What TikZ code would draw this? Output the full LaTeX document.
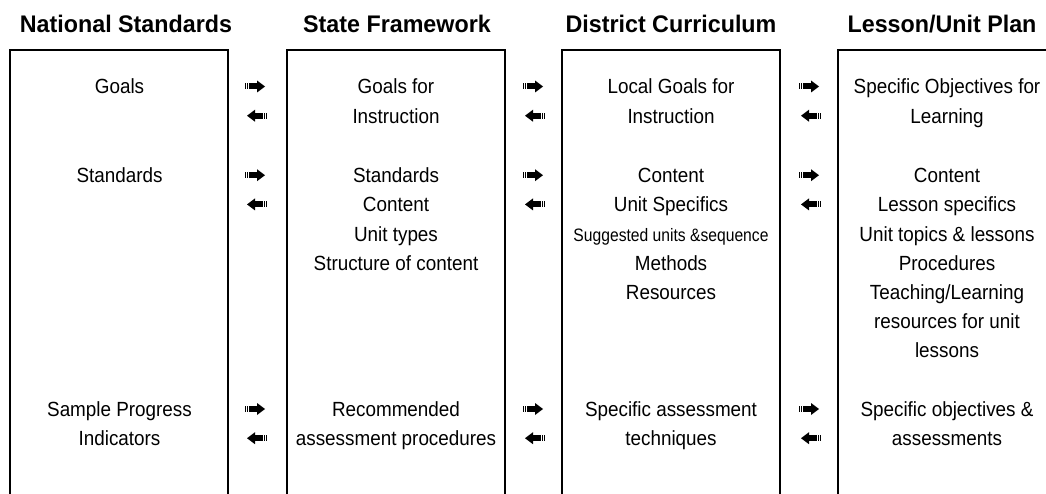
\documentclass[tikz,border=0pt]{standalone}
\usepackage{fontspec}
\setmainfont[FakeStretch=0.92]{Liberation Sans}
\newfontfamily\headfont[FakeStretch=0.97]{Liberation Sans}
\newfontfamily\narrowfont[FakeStretch=0.87]{Liberation Sans}

\tikzset{
  rarrow/.pic={
    \fill (-10,-3) rectangle (-9,3);
    \fill (-8,-3) rectangle (-7,3);
    \fill (-6,-3) rectangle (2,3);
    \fill (2,-6) -- (10,0) -- (2,6) -- cycle;
  }
}

\begin{document}
\begin{tikzpicture}[x=1pt, y=-1pt, frame/.style={draw, line width=1.2pt},
  head/.style={anchor=base, inner sep=0pt, font=\headfont\bfseries\fontsize{24}{28}\selectfont},
  txt/.style={anchor=base, align=center, inner sep=0pt, font=\fontsize{20.5}{29.2}\selectfont}]
  \useasboundingbox (0,0) rectangle (1046,494);

  % column frames, open at the bottom
  \foreach \l in {10,287,562,838}
    \draw[frame] (\l,494) -- (\l,50) -- ++(218,0) -- ++(0,444);

  % headings
  \node[head] (natH) at (126,32.5) {National Standards};
  \node[head] (stateH) at (397,32.5) {State Framework};
  \node[head] (distH) at (671,32.5) {District Curriculum};
  \node[head] (lessonH) at (942,32.5) {Lesson/Unit Plan};

  % goals row (base = baseline of the last line)
  \node[txt] (natGoals) at (119.5,94) {Goals};
  \node[txt] (stateGoals) at (396,123.2) {Goals for\\Instruction};
  \node[txt] (distGoals) at (671,123.2) {Local Goals for\\Instruction};
  \node[txt] (lessonGoals) at (947,123.2) {Specific Objectives for\\Learning};

  % standards row
  \node[txt] (natStd) at (119.5,182.7) {Standards};
  \node[txt] (stateStd) at (396,270.3) {Standards\\Content\\Unit types\\Structure of content};
  \node[txt] (distStd) at (671,299.5) {Content\\Unit Specifics\\{\narrowfont\fontsize{18}{29.2}\selectfont Suggested units \&sequence}\\Methods\\Resources};
  \node[txt] (lessonStd) at (947,357.9) {Content\\Lesson specifics\\Unit topics \& lessons\\Procedures\\Teaching/Learning\\resources for unit\\lessons};

  % assessment row
  \node[txt] (natAss) at (119.5,445.7) {Sample Progress\\Indicators};
  \node[txt] (stateAss) at (396,445.7) {Recommended\\assessment procedures};
  \node[txt] (distAss) at (671,445.7) {Specific assessment\\techniques};
  \node[txt] (lessonAss) at (947,445.7) {Specific objectives \&\\assessments};

  % arrows between the columns
  \foreach \g in {255,533,809}
    \foreach \r in {86.5,175.2,409} {
      \pic at (\g,\r) {rarrow};
      \pic[xscale=-1] at (\g+2,\r+29.2) {rarrow};
    }
\end{tikzpicture}
\end{document}
